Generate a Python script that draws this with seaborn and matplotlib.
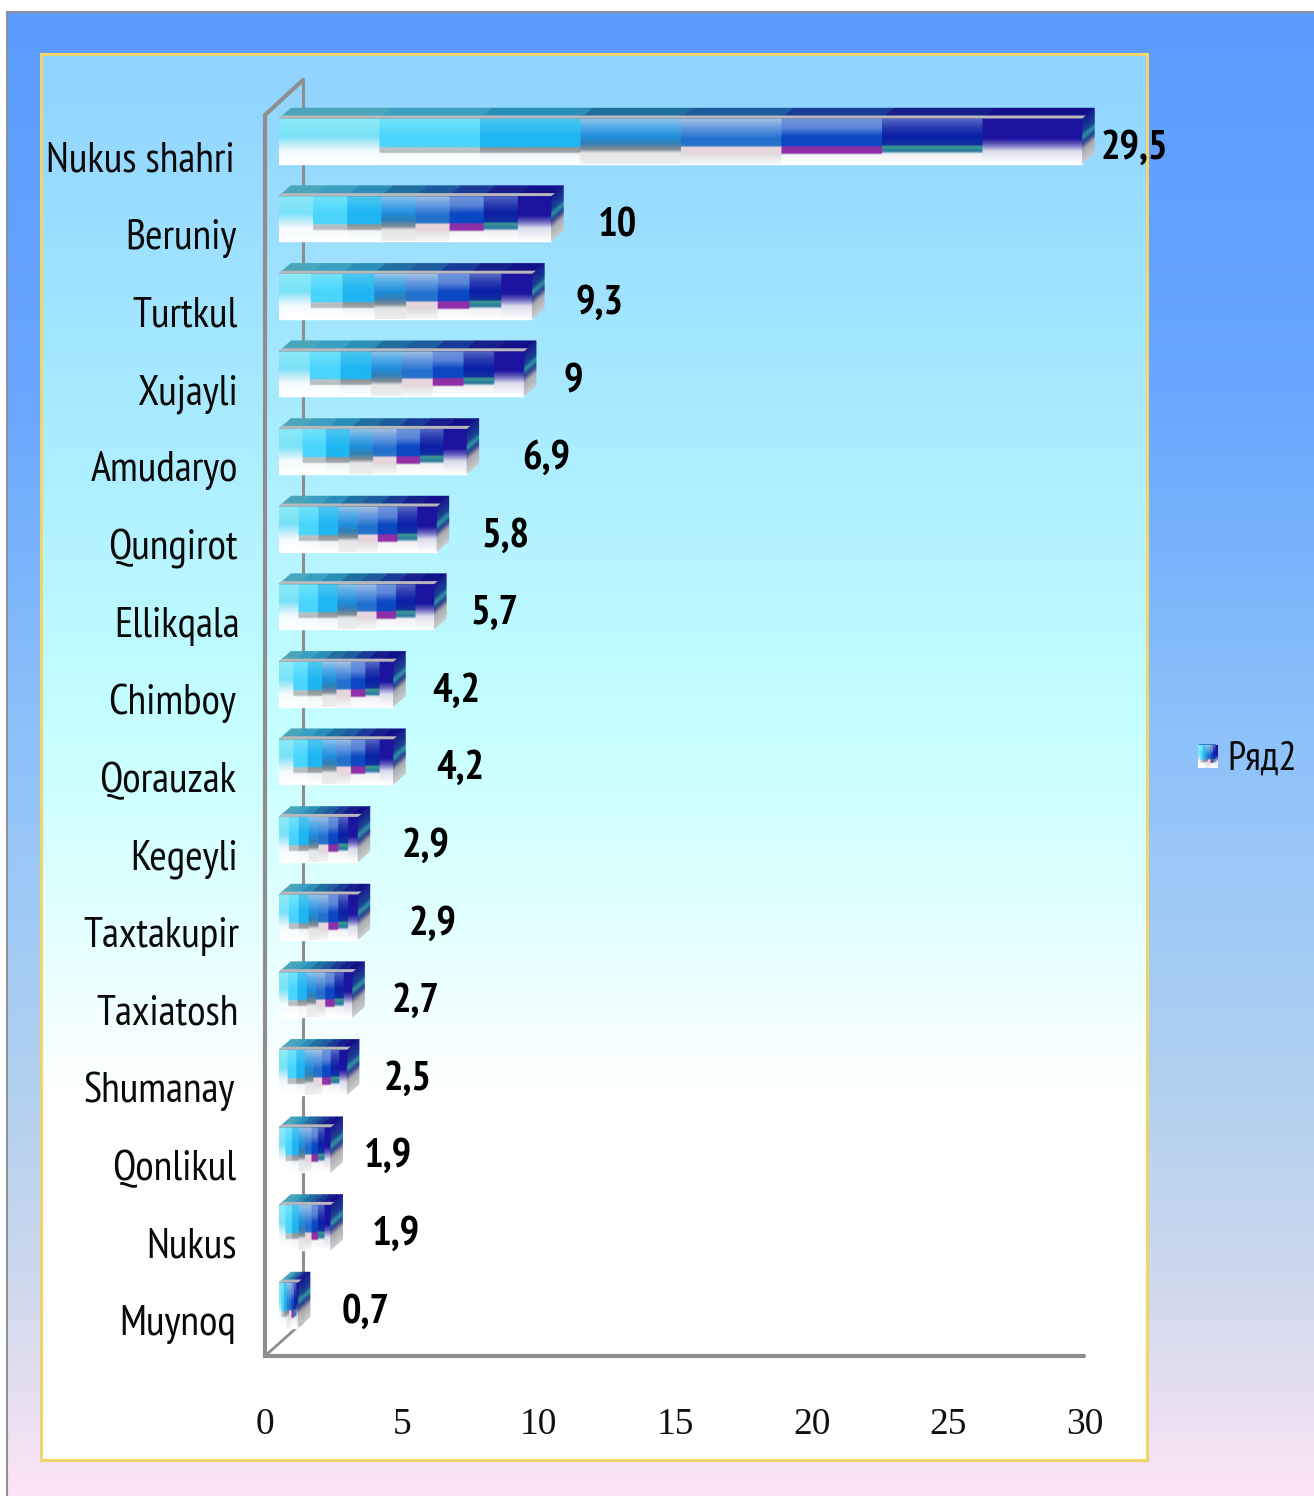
import numpy as np
import pandas as pd
import matplotlib
matplotlib.use("Agg")
import matplotlib.pyplot as plt
from matplotlib.colors import to_rgb
from matplotlib.patches import Polygon, Patch, Rectangle
from matplotlib.transforms import IdentityTransform, ScaledTranslation
import seaborn as sns

# ---------- data ----------
districts = ["Nukus shahri", "Beruniy", "Turtkul", "Xujayli", "Amudaryo", "Qungirot",
             "Ellikqala", "Chimboy", "Qorauzak", "Kegeyli", "Taxtakupir", "Taxiatosh",
             "Shumanay", "Qonlikul", "Nukus", "Muynoq"]
values = [29.5, 10, 9.3, 9, 6.9, 5.8, 5.7, 4.2, 4.2, 2.9, 2.9, 2.7, 2.5, 1.9, 1.9, 0.7]
x_ticks = [0, 5, 10, 15, 20, 25, 30]
series_name = "Ряд2"

# ---------- layout (pixels of the reference) ----------
W, H = 1314, 1496
DPI = 100
value_gap_px = [18, 46, 43, 39, 55, 45, 36, 39, 43, 44, 51, 39, 37, 33, 41, 44]
label_right_px = [235, 236, 238, 238, 238, 238, 240, 236, 236, 238, 239, 239, 235, 236, 237, 236]
NARROW = ["PT Sans Narrow", "Roboto Condensed", "Liberation Sans", "DejaVu Sans"]
SERIF = ["Liberation Serif", "DejaVu Serif"]

sns.set_theme(style="white")
plt.rcParams["font.family"] = NARROW

fig = plt.figure(figsize=(W / DPI, H / DPI), dpi=DPI, facecolor="white")


def gradient(stops, n=500):
    fr = np.array([s[0] for s in stops], float)
    cols = np.array([to_rgb(s[1]) for s in stops])
    t = np.linspace(0, 1, n)
    return np.stack([np.interp(t, fr, cols[:, k]) for k in range(3)], axis=1)


# ---------- background ----------
bg = fig.add_axes([0, 0, 1, 1], zorder=0)
bg.set_axis_off()
outer = gradient([(0, "#5c9cff"), (0.25, "#68a6fe"), (0.5, "#8fc3fa"), (0.72, "#b0d0f0"),
                  (0.85, "#ccd9ec"), (1, "#fde4f6")])[:, None, :]
bg.imshow(outer, extent=[7, W, H, 12], aspect="auto", zorder=0)
inner = gradient([(0, "#8fd3ff"), (0.25, "#a8ebff"), (0.47, "#c4ffff"), (0.68, "#f0ffff"),
                  (0.74, "#ffffff"), (1, "#ffffff")])[:, None, :]
bg.imshow(inner, extent=[41, 1147, 1460, 54], aspect="auto", zorder=1)
bg.add_patch(Rectangle((41, 54), 1106, 1406, fill=False, ec="#f2d569", lw=2.2, zorder=2))
bg.plot([7, 7], [H, 12], color="#8d9099", lw=1.5, zorder=2)
bg.plot([7, W], [12, 12], color="#8d9099", lw=1.5, zorder=2)
GREY = "#8e8e8e"
bg.plot([303, 303], [80, 1320], color=GREY, lw=2.2, zorder=3)
bg.plot([303, 265, 265, 1084], [80, 115, 1356, 1356], color=GREY, lw=3, zorder=3,
        solid_joinstyle="miter")
bg.plot([265, 303], [1356, 1322], color=GREY, lw=2, zorder=3)
bg.set_xlim(0, W)
bg.set_ylim(H, 0)

# ---------- main axes: x 0 at px 279, 30 at px 1096 ----------
ROW0, PITCH = 141.0, 77.6
ax_top, ax_bot = 80, 1356
ax = fig.add_axes([279 / W, 1 - ax_bot / H, 817 / W, (ax_bot - ax_top) / H], zorder=1)
ax.patch.set_visible(False)

df = pd.DataFrame({"district": districts, "value": values})
sns.barplot(data=df, y="district", x="value", orient="h", width=0.58, color="#2a78d0",
            saturation=1, ax=ax, zorder=2)
ax.set_xlim(0, 30)
ax.set_ylim((ax_bot - ROW0) / PITCH, (ax_top - ROW0) / PITCH)
ax.set_xlabel("")
ax.set_ylabel("")
sns.despine(ax=ax, left=True, bottom=True)
ax.set_xticks(x_ticks)
ax.tick_params(axis="both", length=0)
ax.tick_params(axis="x", pad=37)
ax.tick_params(axis="y", pad=0)

# tick labels sit on the front wall of the fake 3-D box: 30 lands at px 1085
tick_scale = 820 / 817
for tick_val, lab in zip(x_ticks, ax.get_xticklabels()):
    lab.set_family(SERIF)
    lab.set_fontsize(27)
    lab.set_color("#111111")
    dx = -14 + tick_val * (820 - 817) / 30
    lab.set_transform(lab.get_transform() + ScaledTranslation(dx / DPI, 0, fig.dpi_scale_trans))
ax.set_yticks(range(len(districts)))
ax.set_yticklabels(districts)
for lab, right in zip(ax.get_yticklabels(), label_right_px):
    lab.set_fontsize(30.5)
    lab.set_color("#0a0a0a")
    lab.set_transform(lab.get_transform()
                      + ScaledTranslation((right - 279) / DPI, -15 / DPI, fig.dpi_scale_trans))

# ---------- bar skin: eight colour columns ----------
COLUMN_STOPS = [
    [(0, "#8eeaf8"), (.4, "#78e2f8"), (.6, "#cdeffa"), (.72, "#f4fbfe"), (1, "#ffffff")],
    [(0, "#74e4fb"), (.4, "#49d5fd"), (.62, "#49d5fd"), (.65, "#b9c2c6"), (.74, "#b5bcc0"),
     (.78, "#f8fbfc"), (1, "#ffffff")],
    [(0, "#4cc8f2"), (.4, "#1fb6f2"), (.62, "#1fb6f2"), (.65, "#8f9498"), (.74, "#a0a4a8"),
     (.78, "#f0f4f6"), (1, "#ffffff")],
    [(0, "#9cc8e8"), (.15, "#5fb0e8"), (.4, "#1f8fdc"), (.55, "#2f7fb8"), (.68, "#808c94"),
     (.76, "#e2e4e6"), (1, "#eeeeee")],
    [(0, "#a8c4e4"), (.2, "#6a9ce0"), (.45, "#1f6fd0"), (.6, "#2a74c8"), (.64, "#e8d4dc"),
     (.78, "#e4d8dc"), (.82, "#e2e2e4"), (1, "#f8f8f8")],
    [(0, "#6f98dc"), (.22, "#5a84d8"), (.4, "#0c48c4"), (.6, "#0c48c4"), (.63, "#9030a8"),
     (.76, "#9030a8"), (.8, "#f4f4f4"), (1, "#ffffff")],
    [(0, "#5a6cc8"), (.2, "#2a3cb0"), (.4, "#0a1ea8"), (.58, "#1030a0"), (.62, "#3a9a90"),
     (.72, "#2a78a0"), (.78, "#f0f0f4"), (1, "#ffffff")],
    [(0, "#1c14a0"), (.45, "#1c14a0"), (.58, "#6a64c0"), (.72, "#dcdcec"), (1, "#ffffff")],
]
TOP_COLORS = ["#4aa6ba", "#3a9fc0", "#2a8fb8", "#1f6fa0", "#1e5a9e", "#1a3a98", "#161e8c", "#14108a"]
SIDE_STOPS = [(0, "#12128a"), (.3, "#123a90"), (.42, "#2a8fa0"), (.55, "#1c3a90"),
              (.62, "#5a5a90"), (.72, "#a8a8ac"), (1, "#c8c8c8")]
skin = np.repeat(np.stack([gradient(s, 300) for s in COLUMN_STOPS], axis=1), 100, axis=1)
side_cols = gradient(SIDE_STOPS, 30)
DX, DY = 12.0, 10.5  # px depth of the fake 3-D bars

to_display = ax.transData
for bar, val in zip(ax.patches, values):
    x0, w = bar.get_x(), bar.get_width()
    y0, h = bar.get_y(), bar.get_height()
    ax.imshow(skin, extent=[x0, x0 + w, y0 + h, y0], aspect="auto", zorder=3)
    # pixel corners of the front face (display coordinates, y up)
    (px0, py_top) = to_display.transform((x0, y0))
    (px1, py_bot) = to_display.transform((x0 + w, y0 + h))
    step = (px1 - px0) / 8
    for k, col in enumerate(TOP_COLORS):
        a, b = px0 + k * step, px0 + (k + 1) * step
        ax.add_patch(Polygon([(a, py_top), (b, py_top), (b + DX, py_top + DY),
                              (a + DX, py_top + DY)], closed=True, fc=col, ec=col, lw=0.3,
                             transform=IdentityTransform(), zorder=3))
    # pale bevel between the top face and the front face
    ax.add_patch(Polygon([(px0, py_top), (px1, py_top), (px1 + 3.5, py_top + 3),
                          (px0 + 3.5, py_top + 3)], closed=True, fc="#b8b8bc", ec="none",
                         transform=IdentityTransform(), zorder=3.5))
    n = len(side_cols)
    hgt = py_top - py_bot
    for j, col in enumerate(side_cols):
        ya = py_top - j * hgt / n
        yb = py_top - (j + 1) * hgt / n
        ax.add_patch(Polygon([(px1, ya), (px1 + DX, ya + DY), (px1 + DX, yb + DY),
                              (px1, yb)], closed=True, fc=col, ec=col, lw=0.3,
                             transform=IdentityTransform(), zorder=3))

ax.set_xlim(0, 30)
ax.set_ylim((ax_bot - ROW0) / PITCH, (ax_top - ROW0) / PITCH)

# ---------- value labels ----------
for i, (val, gap) in enumerate(zip(values, value_gap_px)):
    ax.annotate(f"{val:g}".replace(".", ","), xy=(val, i), xycoords="data",
                xytext=(gap * 72 / DPI, -7 * 72 / DPI), textcoords="offset points",
                ha="left", va="center", fontsize=29.5, fontweight="bold", color="black",
                annotation_clip=False, zorder=6)

# ---------- legend ----------
FS = 29
em = FS * DPI / 72
leg = fig.legend(handles=[Patch(facecolor="#2a78d0", ec="none", label=series_name)], frameon=False,
                 loc="center left", bbox_to_anchor=(1199 / W, 1 - 759 / H), fontsize=FS,
                 labelcolor="#0a0a0a", handlelength=17 / em, handleheight=20 / em,
                 handletextpad=11 / em, borderpad=0, borderaxespad=0)
leg.set_zorder(2)
key = fig.add_axes([1198 / W, 1 - 768 / H, 20 / W, 23 / H], zorder=3)
key.set_axis_off()
key.imshow(skin, aspect="auto")

fig.savefig("out.png", dpi=DPI)
